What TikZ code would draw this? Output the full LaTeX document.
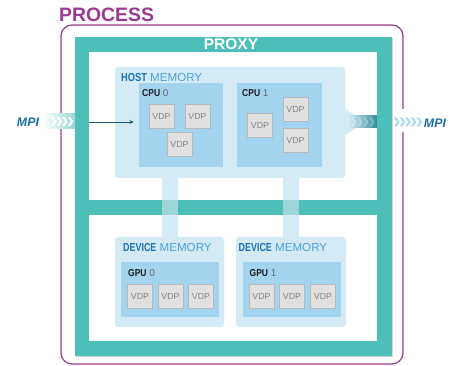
\documentclass[tikz,border=0pt]{standalone}
\usepackage{fontspec}
\setmainfont{Liberation Sans}
\usetikzlibrary{arrows.meta,shadows}
\definecolor{purp}{HTML}{9B3996}
\definecolor{teal1}{HTML}{4CBFB9}
\definecolor{lblue}{HTML}{D4EBF5}
\definecolor{mblue}{HTML}{A3D4EF}
\definecolor{hostblue}{HTML}{1B75BB}
\definecolor{memblue}{HTML}{4AA3DF}
\definecolor{mpiblue}{HTML}{1F6FA6}
\definecolor{arrowdark}{HTML}{1F5A78}
\definecolor{vdpfill}{HTML}{E0E0E0}
\definecolor{vdpline}{HTML}{B8B8B8}
\definecolor{vdptext}{HTML}{858585}
\definecolor{darkteal}{HTML}{2F8E96}
\definecolor{chevlight}{HTML}{A9DCF2}
\definecolor{stubteal}{HTML}{9DD6D8}
\definecolor{cputext}{HTML}{1A1A1A}
\definecolor{cpunum}{HTML}{6A6A6A}
\newcommand{\chevrons}[5]{% x0, ytop, count, step, color
  \foreach \ci in {1,...,#3}{%
    \fill[#5] ({#1+(\ci-1)*#4},#2) -- ++(2.6,0) -- ++(3,4.5) -- ++(-3,4.5) -- ++(-2.6,0) -- ++(3,-4.5) -- cycle;}}
\begin{document}
\begin{tikzpicture}[x=1pt,y=-1pt,
  dim/.style 2 args={minimum width=#1pt, minimum height=#2pt},
  membox/.style={fill=lblue, rounded corners=3pt, inner sep=0pt},
  unitbox/.style={fill=mblue, inner sep=0pt},
  vdpbox/.style={fill=vdpfill, draw=vdpline, line width=0.6pt, minimum width=25pt,
    minimum height=24pt, inner sep=0pt, font=\fontsize{8.8}{9}\selectfont, text=vdptext,
    drop shadow={shadow xshift=0.8pt, shadow yshift=-0.9pt, opacity=0.25}},
  memlabel/.style={anchor=west, inner sep=0pt, font=\fontsize{11.6}{12}\selectfont},
  unitlabel/.style={anchor=west, inner sep=0pt, font=\fontsize{10}{11}\selectfont},
  stub/.style={line width=16pt, lblue},
  mpitext/.style={font=\fontsize{12.4}{13}\selectfont\bfseries\itshape, text=mpiblue, inner sep=0pt}
]
\useasboundingbox (0,0) rectangle (456,366);
\fill[white] (0,0) rectangle (456,366);

% PROCESS frame
\draw[purp, line width=1.2pt, rounded corners=11pt] (61,25) rectangle (403,364);
\fill[white] (399,109) rectangle (407,132);
\node[anchor=west, inner sep=0pt, text=purp, font=\fontsize{19.4}{20}\selectfont\bfseries] (process) at (59,15) {PROCESS};

% PROXY frame
\fill[teal1] (75,37) rectangle (392,356);
\fill[white] (89,52) rectangle (377,200);
\fill[white] (89,215) rectangle (377,341);
\draw[gray!35, line width=0.8pt] (392.4,38) -- (392.4,356.4) -- (76,356.4);
\node[text=white, inner sep=0pt, font=\fontsize{15.5}{16}\selectfont\bfseries] (proxy) at (231,44.5) {PROXY};

% memory boxes
\node[membox, dim={230}{111}] (host) at (230,122.5) {};
\node[membox, dim={109}{90}] (dev0) at (169.5,282) {};
\node[membox, dim={110}{90}] (dev1) at (291,282) {};

% stubs between host and device memory
\draw[stub] (dev0.north |- host.south) -- (dev0.north);
\draw[stub] (dev1.north |- host.south) -- (dev1.north);
\fill[stubteal] (162,200) rectangle (178,215);
\fill[stubteal] (283,200) rectangle (299,215);

% right MPI exit flare
\fill[lblue] (343,107) -- (356,116) -- (377,116) -- (377,128) -- (356,128) -- (343,136) -- cycle;
\shade[left color=lblue, right color=darkteal] (348,116) rectangle (377,128);
\chevrons{351}{117.5}{4}{6}{white, opacity=0.28}
\chevrons{394}{117.5}{5}{5.6}{chevlight}
\node[mpitext] (mpiR) at (435,123.5) {MPI};

% left MPI entry
\shade[left color=white, right color=teal1!60] (43,114) rectangle (75,129);
\chevrons{51}{117}{4}{5.6}{white}
\node[mpitext] (mpiL) at (28,122) {MPI};

% labels
\node[memlabel] (hostlbl) at (121,77.5) {\textcolor{hostblue}{\scalebox{0.8}[1]{\bfseries HOST}} \textcolor{memblue}{MEMORY}};
\node[memlabel] (dev0lbl) at (123,248) {\textcolor{hostblue}{\scalebox{0.77}[1]{\bfseries DEVICE}} \textcolor{memblue}{MEMORY}};
\node[memlabel] (dev1lbl) at (238.5,248) {\textcolor{hostblue}{\scalebox{0.77}[1]{\bfseries DEVICE}} \textcolor{memblue}{MEMORY}};

% units
\node[unitbox, dim={84}{84}] (cpu0) at (181,125) {};
\node[unitbox, dim={85}{84}] (cpu1) at (279.5,125) {};
\node[unitbox, dim={98}{55}] (gpu0) at (170,289.5) {};
\node[unitbox, dim={98}{55}] (gpu1) at (292,289.5) {};

\node[unitlabel] (cpu0lbl) at (142,93) {\textcolor{cputext}{\scalebox{0.85}[1]{\bfseries CPU}} \textcolor{cpunum}{0}};
\node[unitlabel] (cpu1lbl) at (242,93) {\textcolor{cputext}{\scalebox{0.85}[1]{\bfseries CPU}} \textcolor{cpunum}{1}};
\node[unitlabel] (gpu0lbl) at (128,273) {\textcolor{cputext}{\scalebox{0.85}[1]{\bfseries GPU}} \textcolor{cpunum}{0}};
\node[unitlabel] (gpu1lbl) at (249.5,273) {\textcolor{cputext}{\scalebox{0.85}[1]{\bfseries GPU}} \textcolor{cpunum}{1}};

% VDPs
\node[vdpbox] (c0a) at (161.5,116) {VDP};
\node[vdpbox] (c0b) at (197.5,116) {VDP};
\node[vdpbox] (c0c) at (179.5,144) {VDP};
\node[vdpbox] (c1a) at (260,125) {VDP};
\node[vdpbox] (c1b) at (295.5,109) {VDP};
\node[vdpbox] (c1c) at (295.5,140) {VDP};
\node[vdpbox] (g0a) at (140,296) {VDP};
\node[vdpbox] (g0b) at (170.5,296) {VDP};
\node[vdpbox] (g0c) at (201,296) {VDP};
\node[vdpbox] (g1a) at (261.5,296) {VDP};
\node[vdpbox] (g1b) at (292,296) {VDP};
\node[vdpbox] (g1c) at (323,296) {VDP};

% MPI arrow into CPU 0
\coordinate (mpiin) at (89,122);
\draw[arrowdark, line width=0.9pt, -{Stealth[length=4.5pt,width=4pt]}] (mpiin) -- ([xshift=-5pt]mpiin -| cpu0.west);
\end{tikzpicture}
\end{document}
